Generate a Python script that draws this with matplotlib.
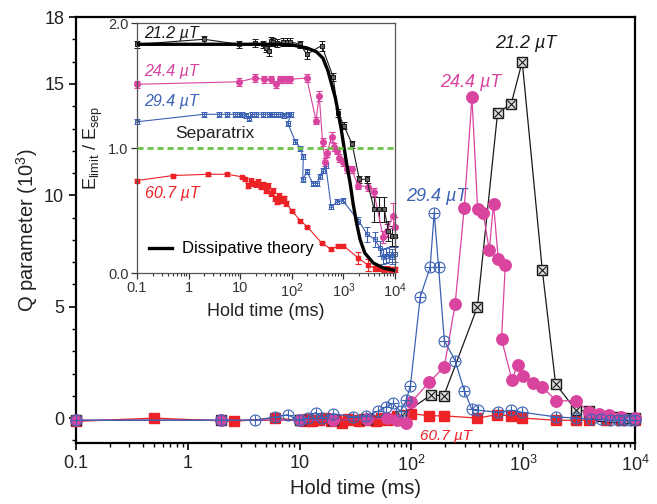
import numpy as np
import matplotlib
matplotlib.use("Agg")
import matplotlib.pyplot as plt
from matplotlib.ticker import FixedLocator, LogLocator, NullFormatter, MultipleLocator

plt.rcParams['font.family'] = ['Liberation Sans', 'DejaVu Sans']
plt.rcParams['mathtext.fontset'] = 'custom'
plt.rcParams['mathtext.rm'] = 'Liberation Sans'
plt.rcParams['mathtext.it'] = 'Liberation Sans:italic'

BLACK = '#1a1a1a'
PINK = '#d9449f'
BLUE = '#3d62b4'
RED = '#ec2227'
GREEN = '#6cc24a'

# ---- main panel data: Q parameter (10^3) vs hold time (ms)
t_212 = [0.1, 2, 10, 20, 40, 80, 150, 195, 390, 590, 780, 980, 1480, 1950, 2960, 3900, 5000, 6500, 8000, 10000]
q_212 = [-0.1, -0.1, -0.1, -0.1, -0.05, 0.1, 1.04, 1.0, 5.0, 13.7, 14.1, 16.0, 6.67, 1.53, 0.36, 0.3, 0.1, 0.05, 0.0, 0.0]

t_244 = [0.1, 2, 10, 20, 40, 60, 75, 90, 100, 145, 197, 246, 297, 348, 391, 439, 497, 543, 598, 691, 640,
         793, 890, 986, 1228, 1468, 1983, 2953, 3890, 4780, 5900, 7500, 10000]
q_244 = [-0.1, -0.1, -0.1, -0.1, -0.05, 0.0, -0.1, -0.2, 0.72, 1.62, 2.3, 5.1, 9.45, 14.4, 9.4, 9.2, 7.54, 9.6, 7.16, 6.85, 3.55,
         1.71, 2.39, 1.89, 1.56, 1.41, 0.77, 0.78, 0.29, 0.2, 0.15, 0.05, 0.0]

t_294 = [0.1, 2, 4, 6, 7.8, 9.8, 11.8, 13.9, 16, 19.7, 30, 39, 50, 59, 68, 80, 90, 98, 120, 147, 160, 175, 197,
         246, 297, 347, 397, 598, 780, 980, 1980, 2950, 4000, 5000, 6000, 7000, 8000, 9000, 10000]
q_294 = [-0.1, -0.1, -0.1, 0.05, 0.15, -0.1, 0.0, 0.25, 0.0, 0.2, 0.06, 0.1, 0.3, 0.5, 0.66, 0.3, 0.81, 1.46, 5.44, 6.77, 9.22, 6.77, 3.48,
         2.58, 1.23, 0.39, 0.35, 0.26, 0.35, 0.26, 0.05, 0.0, -0.05, -0.05, -0.1, -0.1, -0.1, -0.1, -0.1]

t_607 = [0.1, 0.5, 2.6, 6, 10, 11, 12, 13, 15, 17, 19, 21, 24, 27, 30, 34, 38, 43, 48, 54, 60, 67, 75, 85, 100,
         145, 195, 390, 580, 770, 980, 1980, 2960, 3900, 5500, 7500, 10000]
q_607 = [-0.15, 0.0, -0.15, 0.0, -0.1, -0.15, -0.05, -0.15, -0.1, 0.0, -0.15, -0.1, -0.2, -0.05, -0.1, -0.15, -0.05, -0.1, -0.15, 0.0, -0.1, -0.05, 0.1, 0.15, 0.2,
         0.1, 0.1, 0.0, 0.15, 0.1, 0.0, -0.1, -0.1, -0.1, -0.1, -0.1, -0.1]

# ---- inset data: E_limit / E_sep vs hold time (ms)
ti_212 = [0.1, 2, 9.5, 19.5, 28, 32, 36, 39, 44, 51, 69, 80, 93, 145, 195, 380, 630, 795, 1020, 1480,
          2040, 2820, 3950, 5000, 6200, 7400, 8900, 10000]
ei_212 = [1.83, 1.87, 1.83, 1.84, 1.83, 1.80, 1.78, 1.86, 1.85, 1.84, 1.85, 1.85, 1.85, 1.83, 1.75, 1.82, 1.57, 1.28, 1.18, 1.03,
          0.75, 0.75, 0.51, 0.51, 0.51, 0.34, 0.30, 0.30]
di_212 = [0.03, 0.03, 0.03, 0.03, 0.03, 0.03, 0.04, 0.03, 0.03, 0.03, 0.03, 0.03, 0.03, 0.03, 0.04, 0.04, 0.03, 0.03, 0.03, 0.03,
          0.03, 0.03, 0.1, 0.1, 0.1, 0.08, 0.08, 0.08]

ti_244 = [0.1, 9.5, 19.5, 29, 39, 49, 59, 69, 80, 93, 195, 295, 340, 395, 440, 485, 590, 660, 745, 835, 970,
          1150, 1440, 1940, 3030, 3890, 5900, 7100, 9000, 10000]
ei_244 = [1.51, 1.53, 1.56, 1.55, 1.55, 1.51, 1.55, 1.55, 1.55, 1.55, 1.56, 1.22, 1.42, 1.05, 0.89, 0.96, 1.09, 1.01, 0.98, 0.92, 0.89,
          0.83, 0.83, 0.70, 0.69, 0.65, 0.29, 0.34, 0.46, 0.37]
di_244 = [0.03, 0.03, 0.03, 0.03, 0.03, 0.03, 0.03, 0.03, 0.03, 0.03, 0.03, 0.03, 0.04, 0.03, 0.03, 0.03, 0.04, 0.03, 0.03, 0.03, 0.03,
          0.03, 0.03, 0.03, 0.03, 0.03, 0.05, 0.05, 0.1, 0.08]

ti_294 = [0.1, 2, 3.9, 5.6, 7.9, 9.5, 11, 13, 15, 17, 20, 28, 36, 42, 50, 59, 71, 85, 98, 83, 118, 145, 167,
          163, 198, 253, 310, 352, 410, 455, 580, 760, 970, 1950, 2900, 4050, 5100, 5900, 6800, 7800, 8800, 10000]
ei_294 = [1.21, 1.27, 1.27, 1.27, 1.27, 1.27, 1.27, 1.26, 1.24, 1.27, 1.27, 1.27, 1.27, 1.27, 1.27, 1.27, 1.26, 1.27, 1.27, 1.20, 1.05, 1.00, 0.93,
          0.75, 0.81, 0.72, 0.72, 0.77, 0.82, 0.86, 0.53, 0.57, 0.58, 0.42, 0.31, 0.27, 0.20, 0.13, 0.14, 0.15, 0.13, 0.15]
di_294 = [0.02, 0.02, 0.02, 0.02, 0.02, 0.02, 0.02, 0.02, 0.02, 0.02, 0.02, 0.02, 0.02, 0.02, 0.02, 0.02, 0.02, 0.02, 0.02, 0.02, 0.02, 0.02, 0.02,
          0.02, 0.02, 0.02, 0.02, 0.02, 0.02, 0.02, 0.02, 0.02, 0.02, 0.03, 0.06, 0.06, 0.06, 0.06, 0.06, 0.06, 0.06, 0.06]

ti_607 = [0.1, 0.5, 2.4, 5.6, 10.7, 12.5, 14.4, 16, 18, 20, 22, 25, 28, 31, 35, 39, 43, 47, 52, 57, 63, 70, 78,
          99.5, 145, 200, 380, 575, 800, 990, 1950, 2960, 4050, 5000, 6000, 7000, 8500, 10000]
ei_607 = [0.74, 0.78, 0.79, 0.79, 0.77, 0.75, 0.70, 0.74, 0.72, 0.71, 0.73, 0.69, 0.71, 0.66, 0.70, 0.64, 0.66, 0.60, 0.57, 0.62, 0.58, 0.60, 0.56,
          0.50, 0.42, 0.37, 0.24, 0.19, 0.22, 0.22, 0.12, 0.064, 0.04, 0.04, 0.03, 0.035, 0.03, 0.03]
di_607 = [0.01, 0.01, 0.01, 0.01, 0.01, 0.01, 0.02, 0.02, 0.02, 0.02, 0.02, 0.02, 0.02, 0.02, 0.02, 0.02, 0.02, 0.02, 0.02, 0.02, 0.02, 0.02, 0.02,
          0.01, 0.01, 0.01, 0.01, 0.01, 0.01, 0.01, 0.05, 0.05, 0.02, 0.02, 0.02, 0.02, 0.02, 0.02]

t_theory = [0.1, 50, 100, 200, 300, 400, 500, 700, 900, 1150, 1350, 1550, 1800, 2100, 2600, 3800, 6000, 10000]
e_theory = [1.83, 1.83, 1.825, 1.80, 1.77, 1.72, 1.62, 1.40, 1.16, 0.88, 0.72, 0.55, 0.40, 0.27, 0.16, 0.08, 0.04, 0.02]

t_separatrix = [0.1, 10000]
e_separatrix = [1.0, 1.0]

decade_ticks = [0.1, 1, 10, 100, 1000, 10000]
decade_labels = ['0.1', '1', '10', '$10^2$', '$10^3$', '$10^4$']

fig = plt.figure(figsize=(6.57, 5.04), dpi=100)
ax = fig.add_axes([0.1157, 0.121, 0.8508, 0.845])

lw = 0.9
ms = 7.5
ax.plot(t_607, q_607, '-', color=RED, lw=lw, marker='s', ms=ms, mfc=RED, mec=RED, clip_on=False, zorder=3)
ax.plot(t_212, q_212, '-', color=BLACK, lw=lw, marker='s', ms=ms, mfc='#dddddd', mec=BLACK, mew=1.0, clip_on=False, zorder=4)
ax.plot(t_212, q_212, ' ', marker='x', ms=ms * 0.75, mec=BLACK, mew=0.8, clip_on=False, zorder=4)
ax.plot(t_244, q_244, '-', color=PINK, lw=lw, marker='o', ms=ms * 1.1, mfc=PINK, mec=PINK, clip_on=False, zorder=5)
ax.plot(t_294, q_294, '-', color=BLUE, lw=lw, marker='o', ms=ms * 1.05, mfc='none', mec=BLUE, mew=0.8, clip_on=False, zorder=6)
ax.plot(t_294, q_294, ' ', marker='+', ms=ms, mec=BLUE, mew=0.8, clip_on=False, zorder=6)

ax.set_xscale('log')
ax.set_xlim(0.1, 1e4)
ax.set_ylim(-1.12, 18)
ax.xaxis.set_major_locator(FixedLocator(decade_ticks))
ax.set_xticklabels(decade_labels)
ax.xaxis.set_minor_locator(LogLocator(base=10, subs=np.arange(2, 10)))
ax.xaxis.set_minor_formatter(NullFormatter())
ax.yaxis.set_major_locator(FixedLocator([0, 5, 10, 15, 18]))
ax.yaxis.set_minor_locator(MultipleLocator(1))
for s in ax.spines.values():
    s.set_linewidth(1.6)
ax.tick_params(which='major', direction='out', length=5, width=1.4, labelsize=13, colors='#222222')
ax.tick_params(which='minor', direction='out', length=3, width=1.0)
ax.set_xlabel('Hold time (ms)', fontsize=14.5, color='#222222', labelpad=3)
ax.set_ylabel('Q parameter (10$^3$)', fontsize=14.5, color='#222222', labelpad=3)

ax.text(1050, 16.45, '21.2 µT', color=BLACK, fontsize=13, style='italic', ha='center', va='bottom')
ax.text(340, 14.7, '24.4 µT', color=PINK, fontsize=13, style='italic', ha='center', va='bottom')
ax.text(170, 9.55, '29.4 µT', color=BLUE, fontsize=13, style='italic', ha='center', va='bottom')
ax.text(205, -0.5, '60.7 µT', color=RED, fontsize=11, style='italic', ha='center', va='top')

# ---- inset
ax_in = fig.add_axes([0.2085, 0.4583, 0.3927, 0.496])
ax_in.set_facecolor('white')
ax_in.set_zorder(10)
ems = 3.5
ekw = dict(lw=0.8, elinewidth=0.8, capsize=2.5, capthick=0.8, clip_on=False)
ax_in.errorbar(ti_607, ei_607, yerr=di_607, color=RED, marker='s', ms=ems, mfc=RED, mec=RED, **ekw)
ax_in.errorbar(ti_294, ei_294, yerr=di_294, color=BLUE, marker='s', ms=ems, mfc='none', mec=BLUE, mew=0.7, **ekw)
ax_in.plot(ti_294, ei_294, ' ', marker='+', ms=ems, mec=BLUE, mew=0.6, clip_on=False)
ax_in.errorbar(ti_244, ei_244, yerr=di_244, color=PINK, marker='o', ms=ems + 0.5, mfc=PINK, mec=PINK, **ekw)
ax_in.errorbar(ti_212, ei_212, yerr=di_212, color=BLACK, marker='s', ms=ems, mfc='#666666', mec=BLACK, mew=0.7, **ekw)
ax_in.plot(ti_212, ei_212, ' ', marker='x', ms=ems * 0.8, mec=BLACK, mew=0.6, clip_on=False)
ax_in.plot(t_theory, e_theory, '-', color='black', lw=2.4, label='Dissipative theory', zorder=5)
ax_in.plot(t_separatrix, e_separatrix, '--', color=GREEN, lw=2.0, dashes=(2.2, 1.4), zorder=6)

ax_in.set_xscale('log')
ax_in.set_xlim(0.1, 1e4)
ax_in.set_ylim(0, 2)
ax_in.xaxis.set_major_locator(FixedLocator(decade_ticks))
ax_in.set_xticklabels(decade_labels)
ax_in.xaxis.set_minor_locator(LogLocator(base=10, subs=np.arange(2, 10)))
ax_in.xaxis.set_minor_formatter(NullFormatter())
ax_in.yaxis.set_major_locator(FixedLocator([0, 1, 2]))
ax_in.set_yticklabels(['0.0', '1.0', '2.0'])
for s in ax_in.spines.values():
    s.set_linewidth(0.9)
    s.set_color('#555555')
ax_in.tick_params(which='major', direction='out', length=4, width=0.9, labelsize=10.5, colors='#333333', pad=2)
ax_in.tick_params(which='minor', direction='out', length=2.5, width=0.8, colors='#333333')
ax_in.set_xlabel('Hold time (ms)', fontsize=13, color='#222222', labelpad=2)
ax_in.set_ylabel(r'E$_{\mathrm{limit}}$ / E$_{\mathrm{sep}}$', fontsize=13, color='#222222', labelpad=2)

ax_in.text(3.2, 1.12, 'Separatrix', fontsize=12.5, color='#222222', ha='center', va='center')
ax_in.text(0.14, 1.92, '21.2 µT', color=BLACK, fontsize=11.5, style='italic', ha='left', va='center')
ax_in.text(0.14, 1.61, '24.4 µT', color=PINK, fontsize=11.5, style='italic', ha='left', va='center')
ax_in.text(0.14, 1.37, '29.4 µT', color=BLUE, fontsize=11.5, style='italic', ha='left', va='center')
ax_in.text(0.14, 0.64, '60.7 µT', color=RED, fontsize=11.5, style='italic', ha='left', va='center')
ax_in.legend(loc='lower left', bbox_to_anchor=(0.0, 0.02), frameon=False, fontsize=12,
             handlelength=1.4, handletextpad=0.6, borderaxespad=0.3)

fig.savefig('out.png', dpi=100)
